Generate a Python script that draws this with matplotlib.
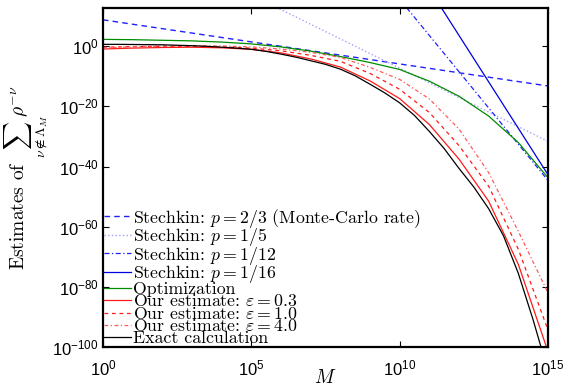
import numpy as np
import matplotlib
matplotlib.use('Agg')
import matplotlib.pyplot as plt

# tick labels in a helvetica-like face, legend/labels in computer modern
plt.rcParams['font.family'] = 'Liberation Sans'
plt.rcParams['mathtext.fontset'] = 'custom'
plt.rcParams['mathtext.rm'] = 'Liberation Sans'
plt.rcParams['mathtext.it'] = 'Liberation Sans:italic'
plt.rcParams['mathtext.bf'] = 'Liberation Sans:bold'

# all values are log10 of the quantity
decades = [0, 1, 2, 3, 4, 5, 6, 7, 8, 9, 10, 11, 12, 13, 14, 15]
optimization = [2.3, 2.2, 2.0, 1.8, 1.4, 0.8, -0.2, -1.6, -3.4, -5.4, -7.7, -11.6, -16.6, -23.2, -32.0, -43.7]
ours_03 = [-0.9, -0.6, -0.4, -0.3, -0.5, -1.0, -2.2, -4.2, -6.9, -11.5, -17.4, -26.0, -37.5, -51.5, -72.5, -101.5]
ours_10 = [-0.3, -0.1, 0.0, 0.0, -0.2, -0.6, -1.5, -3.0, -5.0, -9.0, -14.3, -22.0, -33.0, -46.5, -67.5, -94.3]
ours_40 = [-0.5, -0.2, 0.1, 0.2, 0.1, -0.2, -0.9, -2.0, -3.7, -7.0, -11.0, -17.5, -27.5, -42.0, -61.5, -82.0]

exact_decades = [0, 0.5, 1, 1.5, 2, 2.5, 3, 3.5, 4, 4.5, 5, 5.5, 6, 6.5, 7, 7.5,
                 8, 8.5, 9, 9.5, 10, 10.5, 11, 11.5, 12, 12.5, 13, 13.5, 14, 14.5, 15]
exact = [0.65, 0.65, 0.6, 0.55, 0.5, 0.35, 0.2, 0.0, -0.3, -0.6, -1.0, -1.7, -2.6, -3.6, -4.8, -6.0,
         -7.6, -9.8, -12.6, -15.5, -18.8, -23.0, -28.3, -34.0, -40.6, -46.8, -54.0, -63.0, -75.5, -91.0, -108.0]

stechkin_decades = [0, 15]
stechkin_23 = [8.8, -13.2]
stechkin_15 = [41.4, -31.6]
stechkin_112 = [136.2, -44.6]
stechkin_116 = [188.9, -42.7]

fig = plt.figure(figsize=(5.64, 3.86), dpi=100)
ax = fig.add_axes([0.1826, 0.101, 0.7890, 0.878])

def p(d, v, **kw):
    ax.plot(10.0 ** np.array(d), 10.0 ** np.array(v), **kw)

p(stechkin_decades, stechkin_23, color='#2020ff', lw=1.0, dashes=(4, 3),
  label=r'Stechkin: $p = 2/3$ (Monte-Carlo rate)')
p(stechkin_decades, stechkin_15, color='#a0a0ff', lw=1.0, linestyle=':',
  label=r'Stechkin: $p = 1/5$')
p(stechkin_decades, stechkin_112, color='#2020ff', lw=0.9, dashes=(4, 2, 1, 2),
  label=r'Stechkin: $p = 1/12$')
p(stechkin_decades, stechkin_116, color='#0000e0', lw=0.9,
  label=r'Stechkin: $p = 1/16$')
p(decades, optimization, color='#008c00', lw=0.9, label='Optimization')
p(decades, ours_03, color='#ff1a1a', lw=0.9, label=r'Our estimate: $\varepsilon = 0.3$')
p(decades, ours_10, color='#ff1a1a', lw=0.9, dashes=(3, 3), label=r'Our estimate: $\varepsilon = 1.0$')
p(decades, ours_40, color='#ff5a5a', lw=0.9, dashes=(3, 2, 1, 2), label=r'Our estimate: $\varepsilon = 4.0$')
p(exact_decades, exact, color='black', lw=0.9, label='Exact calculation')

ax.set_xscale('log')
ax.set_yscale('log')
ax.set_xlim(1, 1e15)
ax.set_ylim(1e-100, 10 ** 12.7)
ax.set_xticks([1, 1e5, 1e10, 1e15])
ax.set_yticks([1e-100, 1e-80, 1e-60, 1e-40, 1e-20, 1])
ax.minorticks_off()
ax.tick_params(direction='in', top=True, right=True, length=4, width=0.8, labelsize=12)
ax.tick_params(axis='x', pad=8)
ax.tick_params(axis='y', pad=3)
for s in ax.spines.values():
    s.set_linewidth(1.6)

ax.set_xlabel('$M$', fontsize=14, math_fontfamily='cm', va='center')
ax.xaxis.set_label_coords(0.5, -0.092)
ax.set_ylabel(r'Estimates of $\sum_{\nu\notin\Lambda_M}\rho^{-\nu}$', fontsize=14,
              family=['cmr10', 'DejaVu Serif'], math_fontfamily='cm', labelpad=2)

leg = ax.legend(loc='lower left', frameon=False, fontsize=12.8, handlelength=1.55,
                handletextpad=0.08, labelspacing=-0.2, borderaxespad=0.0, borderpad=0.05)
for t in leg.get_texts():
    t.set_fontfamily(['cmr10', 'DejaVu Serif'])
    t.set_math_fontfamily('cm')

fig.savefig('out.png', dpi=100)
